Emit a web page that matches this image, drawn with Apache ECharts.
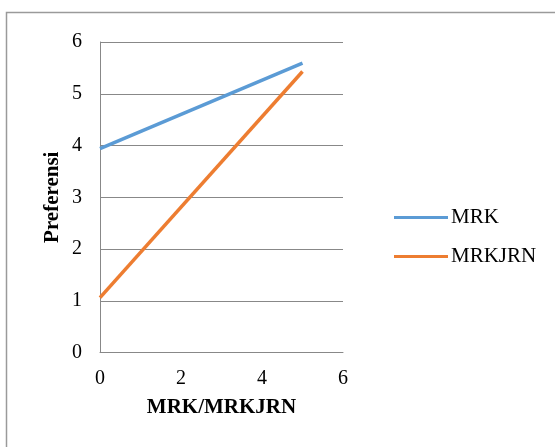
<!DOCTYPE html>
<html>
<head>
<meta charset="utf-8">
<style>
  html, body { margin: 0; padding: 0; background: #fff; }
  #chart { width: 555px; height: 447px; }
</style>
<script src="https://cdn.jsdelivr.net/npm/echarts@6/dist/echarts.min.js"></script>
</head>
<body>
<div id="chart"></div>
<script>
// Preference endpoints for each series (x = MRK/MRKJRN value, y = preference)
const xValues = [0, 5];
const mrkValues = [3.94, 5.59];
const mrkjrnValues = [1.06, 5.43];
const seriesNames = ['MRK', 'MRKJRN'];
const seriesColors = ['#5B9BD5', '#ED7D31'];

const pairs = (ys) => xValues.map((x, i) => [x, ys[i]]);

const chart = echarts.init(document.getElementById('chart'), null, { renderer: 'canvas' });
const serif = '"Liberation Serif", "Times New Roman", serif';

chart.setOption({
  animation: false,
  backgroundColor: '#fff',
  textStyle: { fontFamily: serif },
  graphic: [
    // frame along the top and left edges
    { type: 'polyline', shape: { points: [[6.5, 447], [6.5, 12.5], [555, 12.5]] },
      style: { stroke: '#9a9a9a', lineWidth: 1.5, fill: null }, silent: true }
  ],
  grid: { left: 100, right: 212, top: 42, bottom: 94.5, containLabel: false },
  legend: {
    orient: 'vertical',
    left: 389,
    top: 202,
    itemWidth: 54,
    itemHeight: 3,
    itemGap: 18,
    icon: 'rect',
    textStyle: { fontFamily: serif, fontSize: 21, color: '#000', padding: [0, 0, 0, -2] },
    data: seriesNames
  },
  xAxis: {
    type: 'value',
    min: 0, max: 6, interval: 2,
    name: 'MRK/MRKJRN',
    nameLocation: 'middle',
    nameGap: 45,
    nameTextStyle: { fontFamily: serif, fontSize: 21, fontWeight: 'bold', color: '#000' },
    axisLine: { show: true, lineStyle: { color: '#888', width: 1 } },
    axisTick: { show: false },
    splitLine: { show: false },
    axisLabel: { fontFamily: serif, fontSize: 20, color: '#000', margin: 16 }
  },
  yAxis: {
    type: 'value',
    min: 0, max: 6, interval: 1,
    name: 'Preferensi',
    nameLocation: 'middle',
    nameGap: 37,
    nameRotate: 90,
    nameTextStyle: { fontFamily: serif, fontSize: 21, fontWeight: 'bold', color: '#000' },
    axisLine: { show: true, lineStyle: { color: '#888', width: 1 } },
    axisTick: { show: false },
    splitLine: { show: true, lineStyle: { color: '#888', width: 1 } },
    axisLabel: { fontFamily: serif, fontSize: 20, color: '#000', margin: 18 }
  },
  series: [
    { name: seriesNames[0], type: 'line', data: pairs(mrkValues), showSymbol: false, symbol: 'none',
      lineStyle: { color: seriesColors[0], width: 3.5 }, itemStyle: { color: seriesColors[0] } },
    { name: seriesNames[1], type: 'line', data: pairs(mrkjrnValues), showSymbol: false, symbol: 'none',
      lineStyle: { color: seriesColors[1], width: 3.5 }, itemStyle: { color: seriesColors[1] } }
  ]
});
</script>
</body>
</html>
